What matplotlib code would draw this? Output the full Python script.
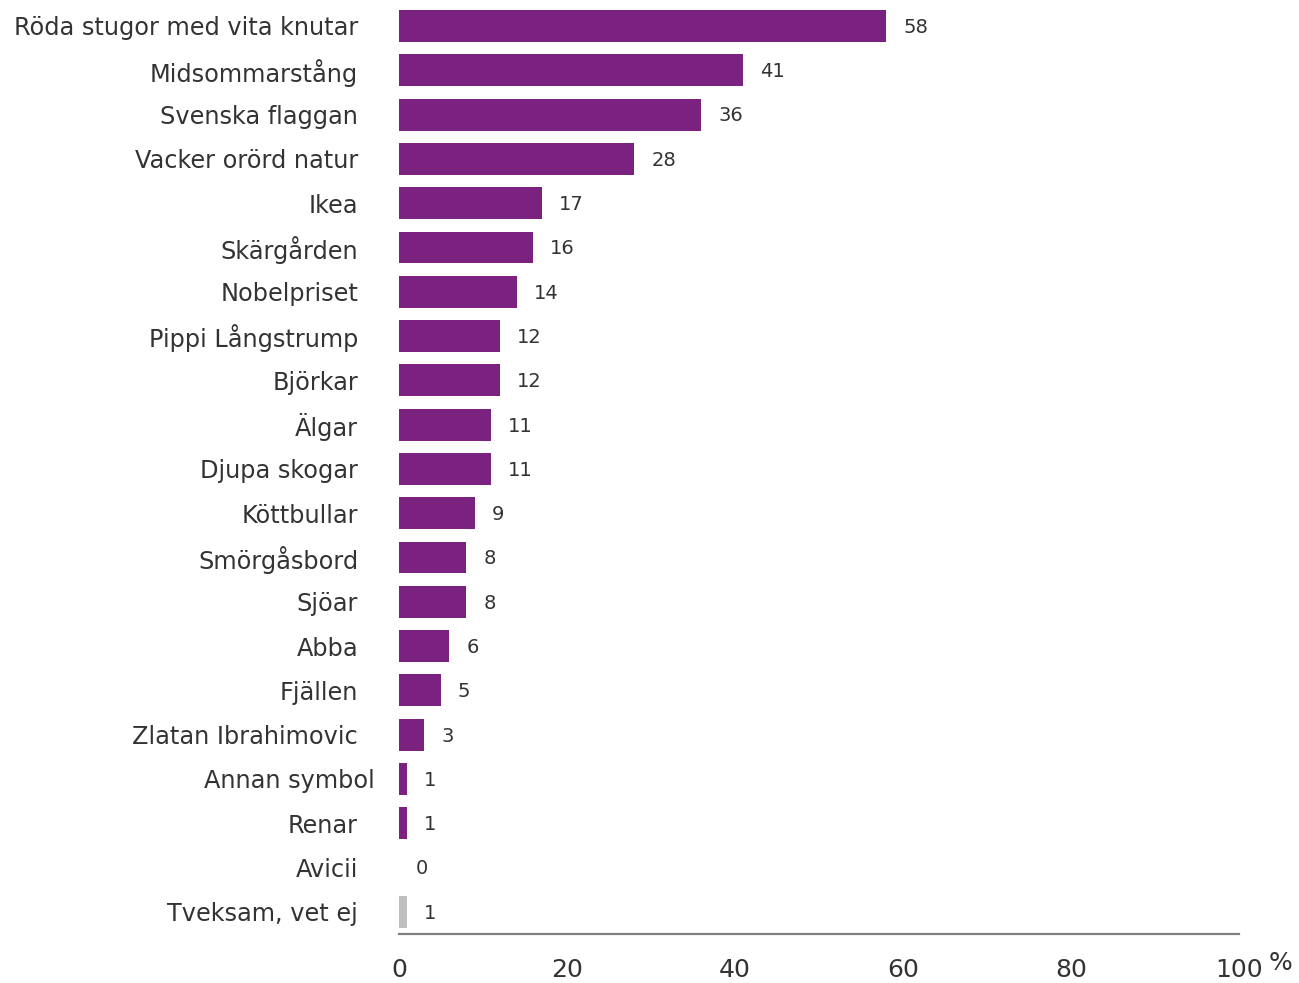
import matplotlib
matplotlib.use("Agg")
import matplotlib.pyplot as plt
import matplotlib.transforms as mtransforms

plt.rcParams["font.family"] = ["DejaVu Sans"]

categories = ["Röda stugor med vita knutar", "Midsommarstång", "Svenska flaggan",
              "Vacker orörd natur", "Ikea", "Skärgården", "Nobelpriset",
              "Pippi Långstrump", "Björkar", "Älgar", "Djupa skogar", "Köttbullar",
              "Smörgåsbord", "Sjöar", "Abba", "Fjällen", "Zlatan Ibrahimovic",
              "Annan symbol", "Renar", "Avicii", "Tveksam, vet ej"]
values = [58, 41, 36, 28, 17, 16, 14, 12, 12, 11, 11, 9, 8, 8, 6, 5, 3, 1, 1, 0, 1]
xticks = [0, 20, 40, 60, 80, 100]

purple = "#7B2180"
gray = "#BFBFBF"
text_col = "#333333"
colors = [purple] * (len(values) - 1) + [gray]

fig = plt.figure(figsize=(12.99, 9.83), dpi=100)
ax = fig.add_axes([399/1299, 1 - 934/983, 840/1299, (934 - 3.85)/983])

ypos = list(range(len(categories)))
ax.barh(ypos, values, height=0.72, color=colors)
ax.set_ylim(len(categories) - 0.5, -0.5)
ax.set_xlim(0, 100)

for y, v in zip(ypos, values):
    ax.annotate(str(v), (v, y), xytext=(12.2, -1), textcoords="offset points",
                va="center", ha="left", fontsize=14, color=text_col)

ax.set_yticks(ypos)
ax.set_yticklabels(categories, fontsize=17.3, color=text_col)
ax.tick_params(axis="y", length=0, pad=29.5)
ax.set_xticks(xticks)
ax.set_xticklabels([str(t) for t in xticks], fontsize=18, color=text_col)
ax.tick_params(axis="x", length=0, pad=17.5)

# shift "Annan symbol" label slightly right as in reference
lbl = ax.get_yticklabels()[categories.index("Annan symbol")]
lbl.set_transform(lbl.get_transform() + mtransforms.ScaledTranslation(17/100, 0, fig.dpi_scale_trans))

for s in ["top", "right", "left"]:
    ax.spines[s].set_visible(False)
ax.spines["bottom"].set_color("#808080")
ax.spines["bottom"].set_linewidth(1.6)

fig.text(1281/1299, 1 - 963/983, "%", fontsize=18, color=text_col, ha="center", va="center")

fig.savefig("out.png", dpi=100)
